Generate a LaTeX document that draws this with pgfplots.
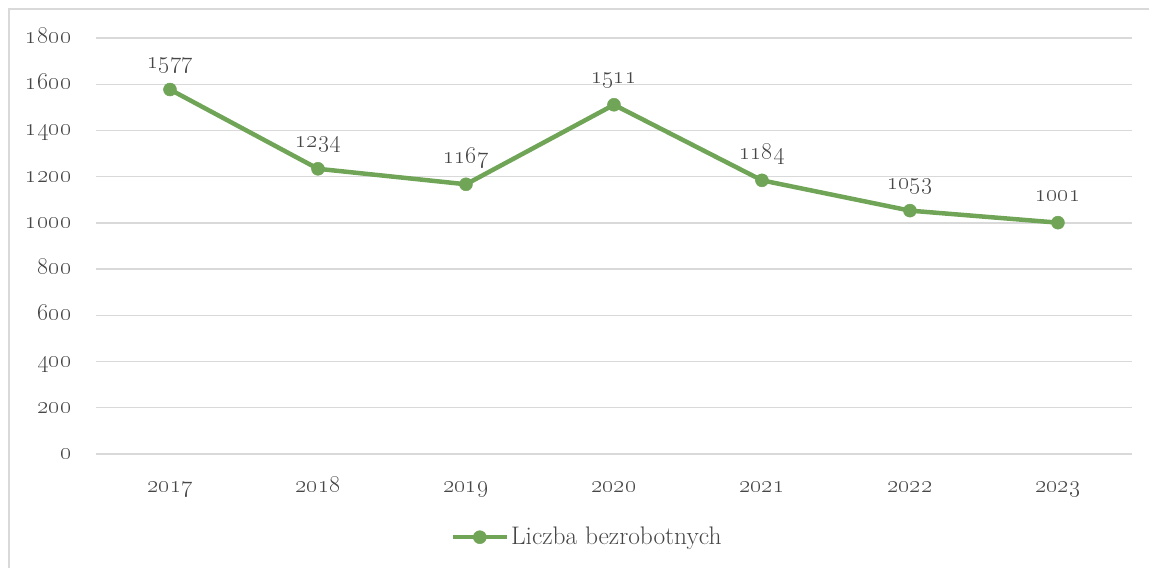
\documentclass[border=0pt]{standalone}
\usepackage{fix-cm}
\usepackage{pgfplots}
\pgfplotsset{compat=1.18}
\definecolor{lg}{RGB}{112,164,87}
\definecolor{tx}{RGB}{70,70,70}
\definecolor{gr}{RGB}{217,217,217}
\newcommand\osn[1]{\oldstylenums{#1}}
\begin{document}
\fontsize{24.5}{28}\selectfont
\begin{tikzpicture}[x=1bp,y=1bp]
\path[use as bounding box] (0,0) rectangle (1149,568);
\draw[gr, line width=1.3bp] (9,0) -- (9,559) -- (1149,559);
\begin{axis}[
  at={(96bp,114bp)}, anchor=south west,
  scale only axis, width=1036bp, height=416bp,
  xmin=-0.5, xmax=6.5, ymin=0, ymax=1800,
  axis line style={draw=none}, tick style={draw=none},
  ymajorgrids, grid style={gr, line width=1.3bp},
  ytick={0,200,...,1800},
  yticklabels={\osn{0},\osn{200},\osn{400},\osn{600},\osn{800},\osn{1000},\osn{1200},\osn{1400},\osn{1600},\osn{1800}},
  xtick={0,...,6},
  xticklabels={\osn{2017},\osn{2018},\osn{2019},\osn{2020},\osn{2021},\osn{2022},\osn{2023}},
  tick label style={text=tx, font=\fontsize{24.5}{28}\selectfont},
  yticklabel style={anchor=base east, xshift=-16bp, yshift=-5.5bp},
  xticklabel style={anchor=base, yshift=-39bp},
  legend style={draw=none, at={(0.474,-0.2)}, anchor=center, text=tx, font=\fontsize{25.5}{28}\selectfont, inner sep=2bp},
  legend cell align=left,
  legend image code/.code={\draw[mark repeat=2,mark phase=2] plot coordinates {(0bp,0bp)(27bp,0bp)(54bp,0bp)};},
  nodes near coords={\osn{\pgfplotspointmeta}},
  nodes near coords style={text=tx, font=\fontsize{24.5}{28}\selectfont, anchor=base, yshift=21bp},
  point meta=explicit symbolic,
]
\addplot[lg, line width=4.5bp, mark=*, mark size=6.5bp, mark options={fill=lg, draw=lg, line width=0.5bp}]
coordinates {(0,1577)[1577] (1,1234)[1234] (2,1167)[1167] (3,1511)[1511] (4,1184)[1184] (5,1053)[1053] (6,1001)[1001]};
\addlegendentry{Liczba bezrobotnych}
\end{axis}
\end{tikzpicture}
\end{document}
